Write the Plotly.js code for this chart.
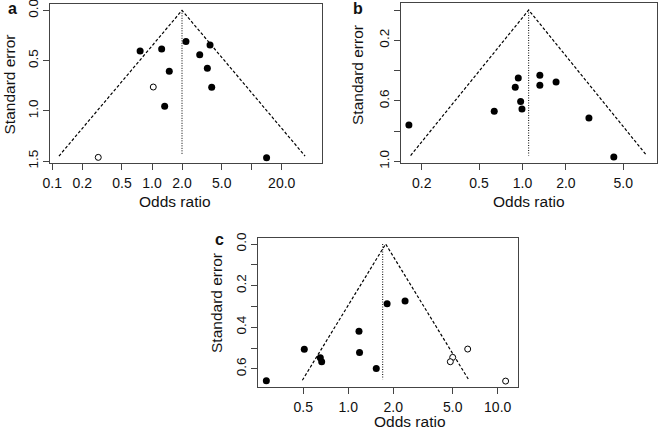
<!DOCTYPE html>
<html>
<head>
<meta charset="utf-8">
<script src="https://cdn.plot.ly/plotly-3.0.1.min.js"></script>
<style>
html,body{margin:0;padding:0;background:#fff;}
#chart{width:662px;height:429px;}
</style>
</head>
<body>
<div id="chart"></div>
<script>
// ---- Panel a data ----
const aFilledOR = [0.76, 1.25, 2.19, 3.82, 3.01, 1.49, 3.59, 3.97, 1.34, 14.1];
const aFilledSE = [0.405, 0.385, 0.309, 0.345, 0.442, 0.607, 0.577, 0.766, 0.955, 1.467];
const aOpenOR = [1.03, 0.289];
const aOpenSE = [0.763, 1.463];
const aCenter = 2.0;      // funnel apex
const aLine = 2.0;        // vertical reference line
const aSeMax = 1.45;
const aXTicks = [0.1, 0.2, 0.5, 1, 2, 5, 10, 20];
const aXTickText = ['0.1', '0.2', '0.5', '1.0', '2.0', '5.0', '', '20.0'];
const aYTicks = [0, 0.5, 1.0, 1.5];
const aYTickText = ['0.0', '0.5', '1.0', '1.5'];

// ---- Panel b data ----
const bFilledOR = [0.163, 0.637, 0.935, 0.891, 0.971, 0.992, 1.32, 1.32, 1.71, 2.89, 4.30];
const bFilledSE = [0.760, 0.670, 0.449, 0.511, 0.604, 0.654, 0.432, 0.498, 0.476, 0.714, 0.972];
const bCenter = 1.104;
const bLine = 1.104;
const bSeMax = 0.962;
const bXTicks = [0.2, 0.5, 1, 2, 5];
const bXTickText = ['0.2', '0.5', '1.0', '2.0', '5.0'];
const bYTicks = [0, 0.2, 0.4, 0.6, 0.8, 1.0];
const bYTickText = ['', '0.2', '', '0.6', '', '1.0'];

// ---- Panel c data ----
const cFilledOR = [0.283, 0.508, 0.650, 0.664, 1.18, 1.19, 1.54, 1.82, 2.40];
const cFilledSE = [0.657, 0.506, 0.547, 0.566, 0.420, 0.521, 0.598, 0.287, 0.274];
const cOpenOR = [6.3, 5.0, 4.82, 11.3];
const cOpenSE = [0.505, 0.545, 0.566, 0.659];
const cCenter = 1.78;
const cLine = 1.70;
const cSeMax = 0.655;
const cXTicks = [0.5, 1, 2, 5, 10];
const cXTickText = ['0.5', '1.0', '2.0', '5.0', '10.0'];
const cYTicks = [0, 0.1, 0.2, 0.3, 0.4, 0.5, 0.6];
const cYTickText = ['0.0', '', '0.2', '', '0.4', '', '0.6'];

const W = 662, H = 429;
const FONT = 'Liberation Sans, Arial, sans-serif';
const fx = p => p / W;
const fy = p => 1 - p / H;

function funnel(center, seMax, xa, ya) {
  return {
    x: [center * Math.exp(-1.96 * seMax), center, center * Math.exp(1.96 * seMax)],
    y: [seMax, 0, seMax],
    mode: 'lines', xaxis: xa, yaxis: ya, hoverinfo: 'skip',
    line: {color: '#000', width: 1.2, dash: '3px,2px'}
  };
}
function vline(x, seMax, xa, ya) {
  return {
    x: [x, x], y: [0, seMax], mode: 'lines', xaxis: xa, yaxis: ya, hoverinfo: 'skip',
    line: {color: '#000', width: 1, dash: '1px,1.5px'}
  };
}
function filled(x, y, xa, ya) {
  return {x: x, y: y, mode: 'markers', xaxis: xa, yaxis: ya,
    marker: {color: '#000', size: 7, line: {width: 0}}};
}
function open(x, y, xa, ya) {
  return {x: x, y: y, mode: 'markers', xaxis: xa, yaxis: ya,
    marker: {color: '#fff', size: 6, line: {width: 1, color: '#000'}}};
}

const data = [
  funnel(aCenter, aSeMax, 'x', 'y'), vline(aLine, aSeMax - 0.01, 'x', 'y'),
  filled(aFilledOR, aFilledSE, 'x', 'y'), open(aOpenOR, aOpenSE, 'x', 'y'),
  funnel(bCenter, bSeMax, 'x2', 'y2'), vline(bLine, bSeMax, 'x2', 'y2'),
  filled(bFilledOR, bFilledSE, 'x2', 'y2'),
  funnel(cCenter, cSeMax, 'x3', 'y3'), vline(cLine, cSeMax - 0.005, 'x3', 'y3'),
  filled(cFilledOR, cFilledSE, 'x3', 'y3'), open(cOpenOR, cOpenSE, 'x3', 'y3')
];

function xax(dom, range, tv, tt, anchor) {
  return {domain: dom, type: 'log', range: range, tickvals: tv, ticktext: tt,
    showgrid: false, zeroline: false, showline: true, mirror: true,
    linecolor: '#444', linewidth: 1, ticks: 'outside', ticklen: 6, tickwidth: 1,
    tickcolor: '#444', ticklabelstandoff: 1, anchor: anchor,
    tickfont: {family: FONT, size: 14, color: '#111'}, fixedrange: true};
}
function yax(dom, range, tv, tt, anchor) {
  return {domain: dom, range: range, tickvals: tv, ticktext: tt, tickangle: -90,
    showgrid: false, zeroline: false, showline: true, mirror: true,
    linecolor: '#444', linewidth: 1, ticks: 'outside', ticklen: 6, tickwidth: 1,
    tickcolor: '#444', ticklabelstandoff: 0, ticklabeloverflow: 'allow', anchor: anchor,
    tickfont: {family: FONT, size: 13.5, color: '#111'}, fixedrange: true};
}

function ann(text, px, py, opts) {
  return Object.assign({text: text, x: fx(px), y: fy(py), xref: 'paper', yref: 'paper',
    showarrow: false, xanchor: 'center', yanchor: 'middle',
    font: {family: FONT, size: 15.5, color: '#111'}}, opts || {});
}

const layout = {
  width: W, height: H, margin: {l: 0, r: 0, t: 0, b: 0},
  paper_bgcolor: '#fff', plot_bgcolor: '#fff', showlegend: false,
  xaxis: xax([fx(50), fx(322)], [-1.023, 1.705], aXTicks, aXTickText, 'y'),
  yaxis: yax([fy(163), fy(4)], [1.519, -0.063], aYTicks, aYTickText, 'x'),
  xaxis2: xax([fx(401), fx(657)], [-0.8425, 0.933], bXTicks, bXTickText, 'y2'),
  yaxis2: yax([fy(163.3), fy(3.3)], [1.0132, -0.0443], bYTicks, bYTickText, 'x2'),
  xaxis3: xax([fx(258.3), fx(517.7)], [-0.602, 1.134], cXTicks, cXTickText, 'y3'),
  yaxis3: yax([fy(386.7), fy(238.3)], [0.686, -0.0274], cYTicks, cYTickText, 'x3'),
  annotations: [
    ann('<b>a</b>', 12, 8, {font: {family: FONT, size: 16, color: '#111'}}),
    ann('<b>b</b>', 358, 9, {font: {family: FONT, size: 16, color: '#111'}}),
    ann('<b>c</b>', 219, 239, {font: {family: FONT, size: 16, color: '#111'}}),
    ann('Standard error', 9, 84.5, {textangle: -90}),
    ann('Standard error', 358, 75, {textangle: -90}),
    ann('Standard error', 216, 303, {textangle: -90}),
    ann('Odds ratio', 175, 201),
    ann('Odds ratio', 529, 201),
    ann('Odds ratio', 410, 421)
  ]
};

Plotly.newPlot('chart', data, layout, {staticPlot: true, displayModeBar: false});
</script>
</body>
</html>
